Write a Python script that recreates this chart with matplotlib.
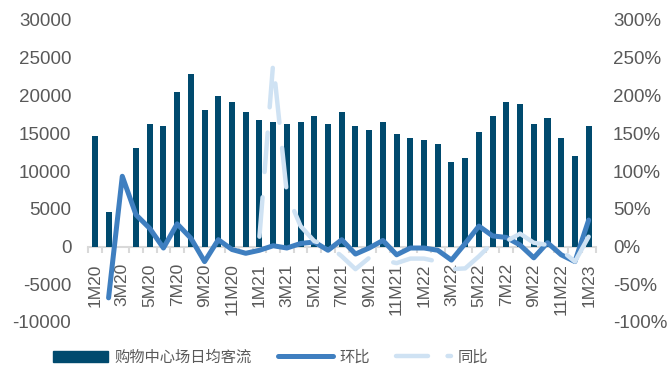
import numpy as np
import matplotlib
matplotlib.use("Agg")
import matplotlib.pyplot as plt
from matplotlib.ticker import FuncFormatter, FixedLocator
from matplotlib.lines import Line2D
from matplotlib.patches import Patch

plt.rcParams['font.family'] = ['Liberation Sans', 'Noto Sans CJK SC', 'DejaVu Sans']
plt.rcParams['axes.unicode_minus'] = False

months = ['1M20', '2M20', '3M20', '4M20', '5M20', '6M20', '7M20', '8M20', '9M20', '10M20', '11M20', '12M20',
          '1M21', '2M21', '3M21', '4M21', '5M21', '6M21', '7M21', '8M21', '9M21', '10M21', '11M21', '12M21',
          '1M22', '2M22', '3M22', '4M22', '5M22', '6M22', '7M22', '8M22', '9M22', '10M22', '11M22', '12M22',
          '1M23']

traffic = [14700, 4600, np.nan, 13050, 16200, 15950, 20450, 22850, 18100, 19950, 19150, 17800,
           16750, 16500, 16200, 16500, 17300, 16200, 17800, 15950, 15450, 16500, 14900, 14400,
           14100, 13600, 11200, 11700, 15200, 17300, 19150, 18900, 16200, 17000, 14400, 12000,
           15950]

mom = [np.nan, -68, 93, 42, 24, -2, 30, 11, -20, 9, -4, -9,
       -5, 1, -2, 4, 6, -5, 9, -10, -2, 8, -11, -2,
       -2, -5, -18, 4, 27, 14, 12, 2, -15, 5, -11, -20,
       35]

yoy = [np.nan] * 12 + [13, 243, 70, 27, 7, 2, -13, -30, -15, -18, -22, -16,
                       -16, -20, -30, -29, -13, 5, 7, 17, 5, 2, -5, -20,
                       13]

bar_color = '#004a6e'
mom_color = '#3f7fc0'
yoy_color = '#cfe2f3'
text_color = '#595959'

fig = plt.figure(figsize=(6.72, 3.69), dpi=100)
ax = fig.add_axes([88/672, 1-322/369, (595.5-88)/672, (322-20)/369])
x = np.arange(len(months))
ax.bar(x, traffic, width=0.44, color=bar_color, zorder=2)
ax.set_xlim(-0.5, len(months)-0.5)
ax.set_ylim(-10000, 30000)
ax.set_yticks(np.arange(-10000, 30001, 5000))
ax.tick_params(axis='y', length=0, labelsize=13.5, labelcolor=text_color, pad=12)
for s in ['top', 'right', 'left']:
    ax.spines[s].set_visible(False)
ax.spines['bottom'].set_position(('data', 0))
ax.spines['bottom'].set_color('#d9d9d9')
ax.spines['bottom'].set_linewidth(1.5)
ax.spines['bottom'].set_zorder(1)
ax.set_xticks(x[::2])
ax.set_xticklabels(months[::2], rotation=90, fontsize=12.5, color=text_color)
ax.xaxis.set_minor_locator(FixedLocator(np.arange(-0.5, len(months), 1)))
ax.tick_params(axis='x', which='major', length=0, pad=12)
ax.tick_params(axis='x', which='minor', length=4, width=1.5, color='#d9d9d9', direction='out')

ax2 = ax.twinx()
ax2.set_ylim(-100, 300)
ax2.set_yticks(np.arange(-100, 301, 50))
ax2.yaxis.set_major_formatter(FuncFormatter(lambda v, p: f'{int(v)}%'))
ax2.tick_params(axis='y', length=0, labelsize=13.5, labelcolor=text_color, pad=12.5)
for s in ax2.spines.values():
    s.set_visible(False)

ax2.plot(x, mom, color=mom_color, lw=3.6, solid_capstyle='round', solid_joinstyle='round', zorder=3)
yoy_line, = ax2.plot(x, yoy, color=yoy_color, lw=3.2, zorder=4,
                     dash_capstyle='round', dash_joinstyle='round')
yoy_line.set_dashes((8.9, 5.7))

handles = [Patch(color=bar_color),
           Line2D([], [], color=mom_color, lw=3.6, solid_capstyle='round'),
           Line2D([], [], color=yoy_color, lw=3.2, dashes=(7.2, 4.4), dash_capstyle='round')]
labels = ['购物中心场日均客流', '环比', '同比']
leg = fig.legend(handles, labels, loc='center left', bbox_to_anchor=(53/672, 1 - 357/369),
                 ncol=3, frameon=False, handlelength=3.6, handleheight=0.7,
                 columnspacing=1.75, handletextpad=0.4, borderpad=0, borderaxespad=0,
                 prop={'family': ['Noto Sans CJK SC', 'DejaVu Sans'], 'size': 11})
for t in leg.get_texts():
    t.set_color(text_color)

fig.savefig('out.png', dpi=100)
